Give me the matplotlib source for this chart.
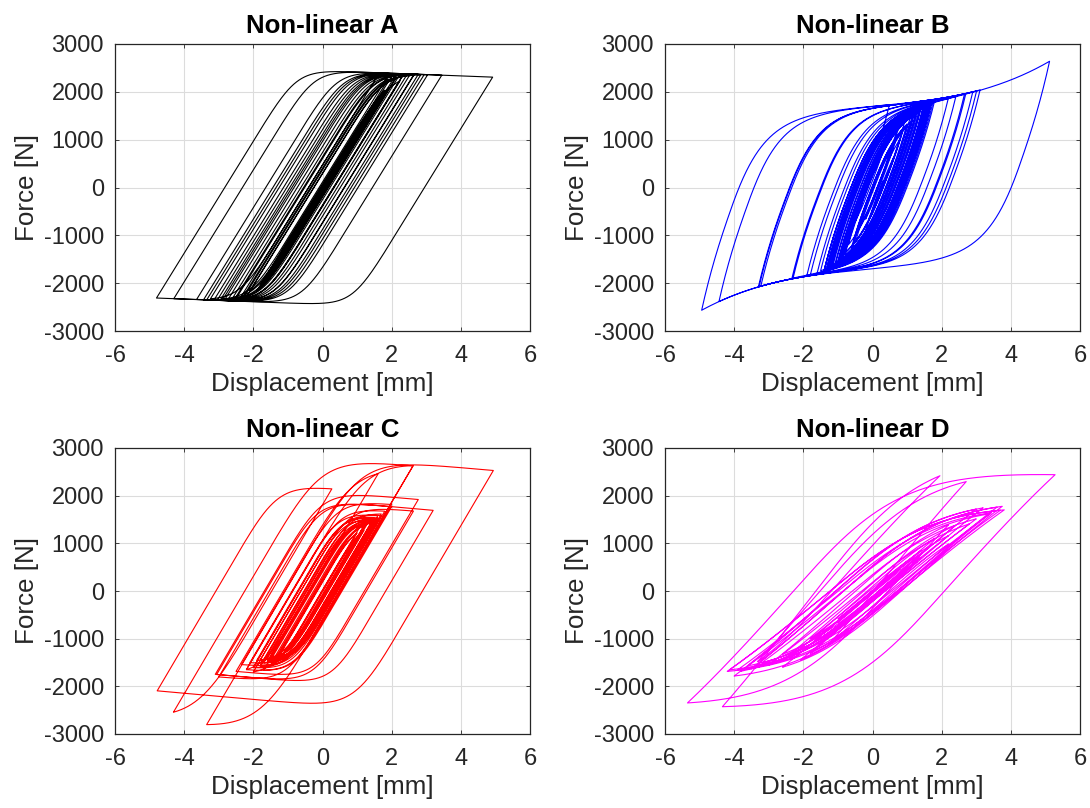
import numpy as np
import matplotlib
matplotlib.use("Agg")
import matplotlib.pyplot as plt

plt.rcParams["font.family"] = ["Liberation Sans", "DejaVu Sans"]
plt.rcParams["axes.unicode_minus"] = False

# Displacement reversal points [mm] for each damper
A_turns = [0.0, 0.8, -0.7, 1.2, -1.1, 1.5, -1.4, 1.7, -1.6,
           2.24, -2.34, 2.14, -2.54, 2.44, -2.24, 2.64, -2.84, 2.24, -3.04,
           2.04, -3.64, -1.5, -2.6, 1.64, -3.24, 2.54, -2.64, 3.04, -2.34,
           2.84, -3.44, 1.94, -2.94, 2.34, -2.74, 2.94, -2.54, 2.64, -3.14,
           2.14, -4.8, 4.92, -4.3, 3.45, -3.35, 2.77, -2.9, 2.35, -2.4,
           1.9, -2.1, 2.1, -1.9, 1.8, -1.7, 1.9, -1.8, 1.6, -1.5, 1.4,
           -1.2, 1.0]

B_turns = [0.0, 0.3, -0.2, 0.6, -0.5, 0.9, -0.6, 1.0, -0.8, 0.7, -0.4, 1.1,
           -0.9, 1.2, -1.0, 0.8, -0.7, 1.3, -1.2, 1.5, -1.3, 1.6, -1.4, 1.7,
           -1.2, 1.4, -1.5, 1.7, -1.1, 1.5, -1.35, 1.65, -1.25, 1.55, -1.4,
           1.75, -2.33, 1.5, -1.0, 1.2, -1.3, 2.41, -1.8, 2.66, -3.28, 3.01,
           -3.23, 3.11, -4.94, 0.49, 0.2, 5.12, -4.44, 2.7, -3.3, 2.9, -2.3,
           2.2, -1.9, 1.8, -1.6, 1.5, -1.4, 1.6, -1.3, 1.7, -1.2, 1.4, -1.1,
           1.5, -1.3, 1.3, -1.0, 1.2, -1.2, 1.4, -0.9, 1.1, -1.0, 1.65,
           -1.25, 1.3, -1.3, 1.55, -1.0, 1.4, -1.2, 1.7, -1.3, 1.2, -0.9,
           1.5, -1.25, 1.0, -0.8, 1.35, -1.15, 1.6, -0.7, 0.9, -0.5, 1.0,
           -0.6, 0.7, -0.2, 0.8, -0.9, 0.4, -0.5, 1.2, -0.3, 0.6, -0.1, 0.3]

C_turns = [0.0, 0.9, -0.9, 1.2, -1.3, 1.4, -1.5, 1.5, -1.7, 1.3, -1.6, 1.6,
           -1.4, 1.5, -2.0, 1.4, -1.8, 1.7, -2.34, 2.0, -1.7, 1.2, -2.0,
           2.63, -3.06, 3.2, -3.1, 2.77, -2.5, 1.61, -2.2, 2.62, -3.35, 4.94,
           -4.78, 0.27, -4.31, 2.62, -3.0, 2.0, -2.2, 1.8, -2.0, 1.6, -1.8,
           1.5, -1.6, 1.3, -1.4, 1.2, -1.9, 1.6, -1.5, 1.4, -2.1, 1.7, -1.3,
           1.0, -1.8, 1.5, -1.6, 1.2, -1.2, 0.9]
# Strength [N] of the half-cycle that ends at the matching turn
C_strength = [1500, 1500, 1500, 1550, 1550, 1600, 1600, 1600, 1650, 1600,
              1650, 1650, 1600, 1650, 1750, 1650, 1750, 1750, 1700, 1950,
              1800, 1700, 1900, 1850, 1950, 1900, 1950, 2100, 1850, 2700,
              1900, 2850, 3065, 2850, 2405, 2170, 2986, 2800, 2000, 1900,
              1800, 1800, 1750, 1700, 1700, 1650, 1650, 1600, 1600, 1550,
              1600, 1650, 1500, 1550, 1650, 1700, 1550, 1500, 1600, 1600,
              1550, 1500, 1500, 1450]

D_turns = [0.0, 0.8, -1.0, 1.5, -1.8, 2.2, -2.6, 2.8, -3.2, 3.0, -3.6, 3.4,
           -4.14, 3.81, -4.2, 3.7, -3.9, 3.44, -2.08, 1.4, -3.0, 2.2, -5.35,
           5.28, -4.34, 1.95, -3.33, 2.71, -1.27, 2.2, -1.8, 1.3, -2.4, 1.8,
           -3.4, 3.6, -4.0, 3.0, -3.5, 3.75, -2.6, 1.0, -2.2, 2.4, -3.8, 3.2,
           -1.5, 0.6, -1.8, 1.4, -1.0, 0.5]
# Stiffness/strength factor of the half-cycle that ends at the matching turn
D_scale = ([0.75] * 18 + [0.8] * 4 + [1.0, 1.0, 1.0, 1.15, 1.0, 1.03, 1.1]
           + [0.8] * 23)

# Material parameters of each hysteresis law
A_law = dict(k=1200.0, fy=2445.0, n=6.0, beta=0.5, gamma=0.5, k2=-28.0, k3=0.0)
B_law = dict(k=1800.0, fy=1700.0, n=1.5, beta=0.8, gamma=0.2, k2=66.0, k3=4.48)
C_law = dict(k=1300.0, fy=2000.0, n=4.0, beta=0.5, gamma=0.5, k2=-65.0, k3=0.0)
D_law = dict(k=850.0, fy=2700.0, n=2.0, beta=0.42, gamma=0.58, k2=-40.0, k3=0.0)


def hysteresis(turns, k, fy, n, beta, gamma, k2=0.0, k3=0.0, strength=None,
               scale=None, step=0.004):
    """Integrate a Bouc-Wen type law along a piecewise displacement path."""
    x = turns[0]
    z = 0.0
    xs = [x]
    fs = [z + k2 * x + k3 * x ** 3]
    for i in range(1, len(turns)):
        xt = turns[i]
        fyi = strength[i] if strength is not None else fy
        ki = k
        if scale is not None:
            fyi *= scale[i]
            ki *= scale[i]
        m = max(int(abs(xt - x) / step), 1)
        dx = (xt - x) / m
        for _ in range(m):
            r = abs(z / fyi) ** n
            s = 1.0 if dx * z >= 0 else -1.0
            z += ki * dx * (1.0 - r * (beta * s + gamma))
            x += dx
            xs.append(x)
            fs.append(z + k2 * x + k3 * x ** 3)
    return np.array(xs), np.array(fs)


panels = [
    ("Non-linear A", A_turns, A_law, {}, "k"),
    ("Non-linear B", B_turns, B_law, {}, "#0000ff"),
    ("Non-linear C", C_turns, C_law, {"strength": C_strength}, "#ff0000"),
    ("Non-linear D", D_turns, D_law, {"scale": D_scale}, "#ff00ff"),
]

fig = plt.figure(figsize=(10.9, 8.08), dpi=100)
W, H = 1090, 808
boxes = [(115, 44, 530, 331), (665, 44, 1080, 331),
         (115, 448, 530, 734), (665, 448, 1080, 734)]

for (title, turns, law, extra, color), (x0, y0, x1, y1) in zip(panels, boxes):
    ax = fig.add_axes([x0 / W, 1 - y1 / H, (x1 - x0) / W, (y1 - y0) / H])
    xs, fs = hysteresis(turns, **law, **extra)
    ax.plot(xs, fs, color=color, lw=0.8)
    ax.set_xlim(-6, 6)
    ax.set_ylim(-3000, 3000)
    ax.set_xticks(np.arange(-6, 7, 2))
    ax.set_yticks(np.arange(-3000, 3001, 1000))
    ax.grid(True, color="#dcdcdc", lw=0.8)
    ax.set_axisbelow(True)
    ax.tick_params(direction="in", length=3, width=0.6, colors="#262626",
                   labelsize=17, top=True, right=True, pad=8)
    ax.tick_params(axis="x", pad=10)
    for sp in ax.spines.values():
        sp.set_color("#262626")
        sp.set_linewidth(0.9)
    ax.set_xlabel("Displacement [mm]", fontsize=18.7, color="#262626", labelpad=4)
    ax.set_ylabel("Force [N]", fontsize=18.7, color="#262626", labelpad=3)
    ax.set_title(title, fontsize=18.6, fontweight="bold", pad=8)

fig.savefig("out.png", dpi=100)
